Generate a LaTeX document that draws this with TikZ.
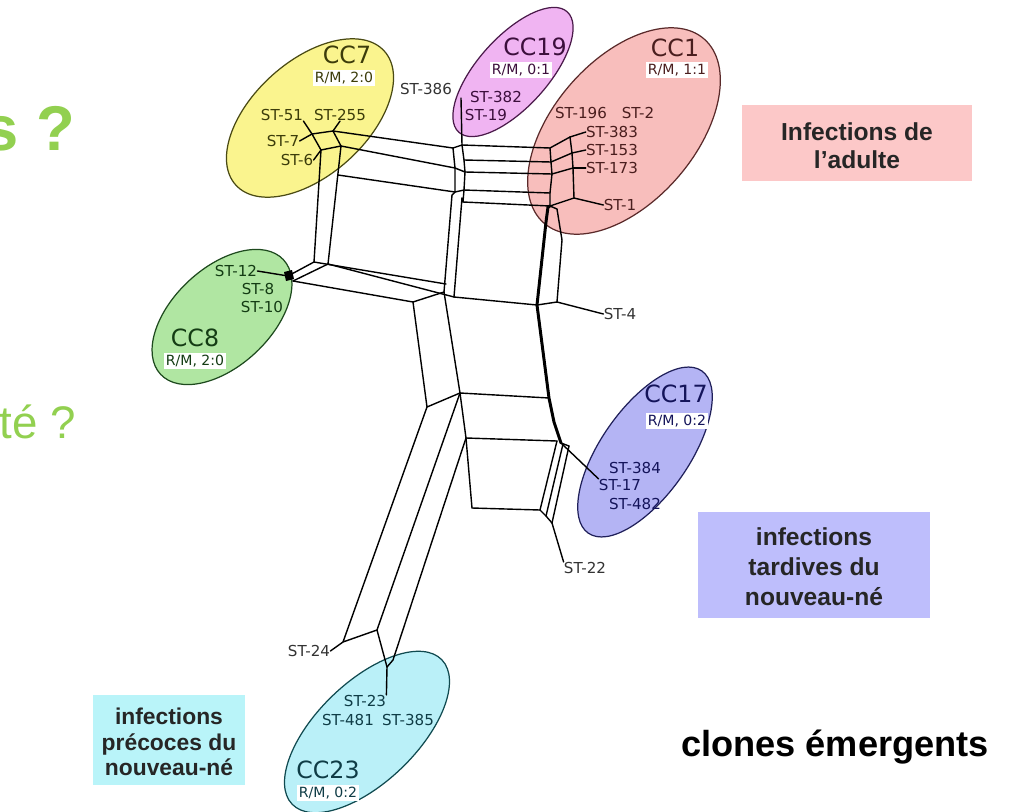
\documentclass[tikz,border=0pt]{standalone}
\usepackage{fontspec}
\setmainfont{Liberation Sans}
\newfontfamily\stfont{DejaVu Sans}
\usetikzlibrary{positioning}

\definecolor{greenq}{HTML}{92D050}
\definecolor{adultfill}{HTML}{FCC8C8}
\definecolor{latefill}{HTML}{BEBEFC}
\definecolor{earlyfill}{HTML}{B9F4F9}
\definecolor{yelfill}{HTML}{FAF48E}
\definecolor{yelline}{HTML}{4A4A14}
\definecolor{yeltext}{HTML}{3C3C0A}
\definecolor{pinkfill}{HTML}{F0B4F2}
\definecolor{pinkline}{HTML}{4A1A4A}
\definecolor{pinktext}{HTML}{3C0F3C}
\definecolor{salfill}{HTML}{F8BEBC}
\definecolor{salline}{HTML}{5A2A2A}
\definecolor{saltext}{HTML}{4A1E1E}
\definecolor{grnfill}{HTML}{B0E6A2}
\definecolor{grnline}{HTML}{1E4A1E}
\definecolor{grntext}{HTML}{143C14}
\definecolor{lavfill}{HTML}{B4B4F4}
\definecolor{lavline}{HTML}{20205A}
\definecolor{lavtext}{HTML}{14145A}
\definecolor{cyafill}{HTML}{BAF0F8}
\definecolor{cyaline}{HTML}{104A50}
\definecolor{cyatext}{HTML}{0F3C46}

\begin{document}
\begin{tikzpicture}[x=0.02cm, y=-0.02cm,
    net/.style={line width=0.8pt, line join=round, line cap=round},
    netthick/.style={line width=1.7pt, line join=round, line cap=round},
    clonal/.style={draw=#1, line width=0.7pt},
    st/.style={font=\stfont\fontsize{8.6}{10}\selectfont, inner sep=0pt},
    ccname/.style={font=\stfont\fontsize{13.5}{15}\selectfont, inner sep=0pt},
    rm/.style={font=\stfont\fontsize{8}{9}\selectfont, fill=white, inner sep=1pt},
    legend/.style={font=\bfseries\fontsize{14}{16}\selectfont, align=center, inner sep=0pt, text=black!85}]
    \useasboundingbox (0,0) rectangle (1009,812);
    \clip (0,0) rectangle (1009,812);

    % question texts cut at the left border
    \node[anchor=base west, text=greenq, font=\bfseries\fontsize{36}{40}\selectfont, inner sep=0pt] (qone) at (-17,150) {s ?};
    \node[anchor=base west, text=greenq, font=\fontsize{26}{30}\selectfont, inner sep=0pt] (qtwo) at (-1,438) {té ?};

    % legend boxes
    \fill[adultfill] (742,105) rectangle (972,181);
    \node[legend] (adult) at (857,146) {Infections de\\l'adulte};
    \fill[latefill] (698,512) rectangle (930,618);
    \node[legend, font=\bfseries\fontsize{14}{17}\selectfont] (late) at (814,567) {infections\\tardives du\\nouveau-né};
    \fill[earlyfill] (93,695) rectangle (245,785);
    \node[legend, font=\bfseries\fontsize{13}{14.5}\selectfont] (early) at (169,742) {infections\\précoces du\\nouveau-né};
    \node[font=\bfseries\fontsize{20.6}{24}\selectfont, inner sep=0pt] (emerg) at (835,747) {clones émergents};

    % clonal complexes
    \draw[clonal=yelline, fill=yelfill, rotate around={42:(310,118)}] (310,118) ellipse [x radius=100, y radius=57];
    \draw[clonal=pinkline, fill=pinkfill, rotate around={48:(513,72)}] (513,72) ellipse [x radius=81, y radius=35];
    \draw[clonal=salline, fill=salfill, rotate around={49:(624,131)}] (624,131) ellipse [x radius=122, y radius=71];
    \draw[clonal=grnline, fill=grnfill, rotate around={43:(222,317)}] (222,317) ellipse [x radius=84, y radius=49];
    \draw[clonal=lavline, fill=lavfill, rotate around={55:(645,452)}] (645,452) ellipse [x radius=99, y radius=44];
    \draw[clonal=cyaline, fill=cyafill, rotate around={44:(367,732)}] (367,732) ellipse [x radius=104, y radius=50];

    % network vertices
    \coordinate (k7a) at (312,134);
    \coordinate (k7b) at (333,131);
    \coordinate (k7c) at (341,146);
    \coordinate (k7d) at (321,150);
    \coordinate (lv3) at (338,175);
    \coordinate (cl1) at (314,262);
    \coordinate (cl2) at (328,264);
    \coordinate (ua1) at (453,148);
    \coordinate (ua2) at (455,168);
    \coordinate (ua3) at (455,192);
    \coordinate (c19) at (461,98);
    \coordinate (mj1) at (462,145);
    \coordinate (mj2) at (464,160);
    \coordinate (mj3) at (465,172);
    \coordinate (mj4) at (464,190);
    \coordinate (mj5) at (463,202);
    \coordinate (r1) at (550,148);
    \coordinate (r2) at (551,162);
    \coordinate (r3) at (552,174);
    \coordinate (r4) at (550,193);
    \coordinate (r5) at (550,206);
    \coordinate (h1a) at (570,137);
    \coordinate (h1b) at (572,153);
    \coordinate (h1c) at (573,168);
    \coordinate (h1d) at (574,198);
    \coordinate (m1t) at (452,195);
    \coordinate (m2t) at (462,198);
    \coordinate (g1) at (446,284);
    \coordinate (m1b) at (444,292);
    \coordinate (m2b) at (454,297);
    \coordinate (k8) at (288,276);
    \coordinate (k8b) at (293,281);
    \coordinate (f1) at (413,302);
    \coordinate (f1d) at (427,407);
    \coordinate (tk1) at (548,207);
    \coordinate (tk1b) at (546,222);
    \coordinate (tk2) at (537,305);
    \coordinate (tk3) at (549,398);
    \coordinate (tk4) at (554,422);
    \coordinate (tk5) at (561,443);
    \coordinate (sr1) at (557,209);
    \coordinate (sr2) at (562,240);
    \coordinate (sr4) at (557,302);
    \coordinate (l2) at (460,393);
    \coordinate (l3) at (466,438);
    \coordinate (l4) at (472,508);
    \coordinate (p1) at (557,441);
    \coordinate (p2) at (563,444);
    \coordinate (p3) at (569,446);
    \coordinate (q1) at (540,510);
    \coordinate (q2) at (546,516);
    \coordinate (q3) at (552,523);
    \coordinate (b1) at (343,642);
    \coordinate (b2) at (377,630);
    \coordinate (b3) at (393,660);
    \coordinate (b4) at (387,667);

    % network edges
    \draw[net] (k7a) -- (k7b) -- (k7c) -- (k7d) -- cycle;
    \draw[net] (k7b) -- (ua1);
    \draw[net] (k7c) -- (ua2);
    \draw[net] (lv3) -- (ua3);
    \draw[net] (k7d) -- (cl1);
    \draw[net] (k7c) -- (cl2);
    \draw[net] (c19) -- (mj1) -- (mj2) -- (mj3) -- (mj4) -- (mj5);
    \draw[net] (ua1) -- (ua2) -- (ua3) -- (m1t);
    \draw[net] (ua1) -- (mj1);
    \draw[net] (ua2) -- (mj3);
    \draw[net] (ua3) -- (mj4);
    \draw[net] (mj5) -- (m2t);
    \draw[net] (mj1) -- (r1);
    \draw[net] (mj2) -- (r2);
    \draw[net] (mj3) -- (r3);
    \draw[net] (mj4) -- (r4);
    \draw[net] (mj5) -- (r5);
    \draw[net] (r1) -- (r2) -- (r3) -- (r4) -- (r5);
    \draw[net] (h1a) -- (h1b) -- (h1c) -- (h1d);
    \draw[net] (r1) -- (h1a);
    \draw[net] (r2) -- (h1b);
    \draw[net] (r3) -- (h1c);
    \draw[net] (r5) -- (h1d);
    \draw[net] (r5) -- (sr1) -- (sr2) -- (sr4);
    \draw[netthick] (r5) -- (tk1) -- (tk1b) -- (tk2) -- (tk3) -- (tk4) -- (tk5);
    \draw[net] (tk2) -- (sr4);
    \draw[net] (m1t) -- (m1b);
    \draw[net] (m2t) -- (m2b);
    \draw[net] (k8) -- (cl1);
    \draw[net] (k8b) -- (cl2);
    \draw[net] (cl1) -- (g1);
    \draw[net] (cl2) -- (m2b);
    \draw[net] (k8b) -- (f1) -- (m1b);
    \draw[net] (m2b) -- (tk2);
    \draw[net] (m1b) -- (l2);
    \draw[net] (f1) -- (f1d) -- (l2);
    \draw[net] (l2) -- (tk3);
    \draw[net] (l2) -- (l3) -- (l4);
    \draw[net] (l3) -- (p1);
    \draw[net] (l4) -- (q1);
    \draw[net] (p1) -- (q1);
    \draw[net] (p2) -- (q2);
    \draw[net] (p3) -- (q3);
    \draw[net] (tk5) -- (p3);
    \draw[net] (q1) -- (q2) -- (q3);
    \draw[net] (f1d) -- (b1) -- (b2);
    \draw[net] (l2) -- (b2) -- (b4);
    \draw[net] (l3) -- (b3) -- (b4);
    \fill (284,272) -- (292,270) -- (294,279) -- (286,281) -- cycle;

    % CC7
    \node[ccname, text=yeltext] (cc7) at (347,55) {CC7};
    \node[rm, text=yeltext] (rm7) at (344,78) {R/M, 2:0};
    \node[st, text=black!80] (st386) at (426,89) {ST-386};
    \node[st, text=yeltext] (st51) at (282,115) {ST-51};
    \node[st, text=yeltext] (st255) at (340,115) {ST-255};
    \node[st, text=yeltext] (st7) at (283,141) {ST-7};
    \node[st, text=yeltext] (st6) at (297,160) {ST-6};
    \draw[net] (st51.south east) -- (k7a);
    \draw[net] (st255.south) -- (k7b);
    \draw[net] (st7.east) -- (k7a);
    \draw[net] (st6.east) -- (k7d);

    % CC19
    \node[ccname, text=pinktext] (cc19) at (535,47) {CC19};
    \node[rm, text=pinktext] (rm19) at (521,70) {R/M, 0:1};
    \node[st, text=pinktext] (st382) at (496,97) {ST-382};
    \node[st, text=pinktext] (st19) at (486,115) {ST-19};

    % CC1
    \node[ccname, text=saltext] (cc1) at (675,48) {CC1};
    \node[rm, text=saltext] (rm1) at (677,70) {R/M, 1:1};
    \node[st, text=saltext] (st196) at (581,113) {ST-196};
    \node[st, text=saltext] (st2) at (638,113) {ST-2};
    \node[st, text=saltext] (st383) at (612,132) {ST-383};
    \node[st, text=saltext] (st153) at (612,150) {ST-153};
    \node[st, text=saltext] (st173) at (612,168) {ST-173};
    \node[st, text=saltext] (st1) at (620,205) {ST-1};
    \draw[net] (st383.west) -- (h1a);
    \draw[net] (st153.west) -- (h1b);
    \draw[net] (st173.west) -- (h1c);
    \draw[net] (st1.west) -- (h1d);

    % CC8
    \node[st, text=grntext] (st12) at (236,271) {ST-12};
    \node[st, text=grntext] (st8) at (258,289) {ST-8};
    \node[st, text=grntext] (st10) at (262,307) {ST-10};
    \node[ccname, text=grntext] (cc8) at (195,338) {CC8};
    \node[rm, text=grntext] (rm8) at (195,361) {R/M, 2:0};
    \draw[net] (st12.east) -- (k8);

    % CC17
    \node[ccname, text=lavtext] (cc17) at (676,394) {CC17};
    \node[rm, text=lavtext] (rm17) at (677,421) {R/M, 0:2};
    \node[st, text=lavtext] (st384) at (635,468) {ST-384};
    \node[st, text=lavtext] (st17) at (620,485) {ST-17};
    \node[st, text=lavtext] (st482) at (635,504) {ST-482};
    \node[st, text=black!80] (st4) at (620,314) {ST-4};
    \node[st, text=black!80] (st22) at (585,568) {ST-22};
    \draw[net] (st4.west) -- (sr4);
    \draw[net] (st17.north west) -- (tk5);
    \draw[net] (st22.north west) -- (q3);

    % CC23
    \node[st, text=black!80] (st24) at (309,651) {ST-24};
    \node[st, text=cyatext] (st23) at (365,701) {ST-23};
    \node[st, text=cyatext] (st481) at (348,720) {ST-481};
    \node[st, text=cyatext] (st385) at (408,720) {ST-385};
    \node[ccname, text=cyatext] (cc23) at (328,770) {CC23};
    \node[rm, text=cyatext] (rm23) at (328,793) {R/M, 0:2};
    \draw[net] (st24.east) -- (b1);
    \draw[net] (st23.north east) -- (b4);
\end{tikzpicture}
\end{document}
